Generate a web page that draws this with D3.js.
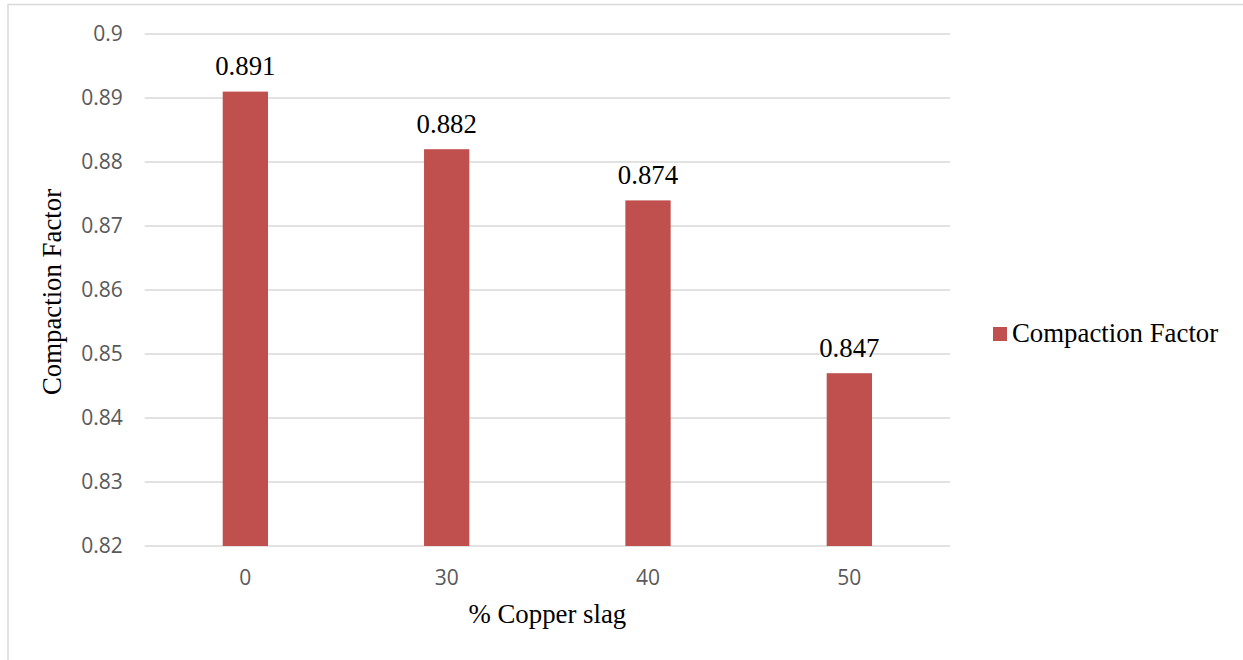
<!DOCTYPE html>
<html>
<head>
<meta charset="utf-8">
<script src="https://cdn.jsdelivr.net/npm/d3@7"></script>
<style>
  html, body { margin: 0; padding: 0; background: #fff; }
  svg { display: block; }
</style>
</head>
<body>
<svg id="chart" width="1243" height="660"></svg>
<script>
const categories = ["0", "30", "40", "50"];
const values = [0.891, 0.882, 0.874, 0.847];
const valueLabels = ["0.891", "0.882", "0.874", "0.847"];
const yTicks = [0.82, 0.83, 0.84, 0.85, 0.86, 0.87, 0.88, 0.89, 0.9];
const seriesName = "Compaction Factor";
const xTitle = "% Copper slag";
const yTitle = "Compaction Factor";

const svg = d3.select("#chart");
const W = 1243, H = 660;
const plot = { left: 144.7, right: 950, top: 34, bottom: 546 };
const barColor = "#c0504d";
const serif = "'Liberation Serif', 'Times New Roman', serif";
const sans = "'Open Sans', 'Liberation Sans', sans-serif";
const serifSize = 26.8;

// Outer chart border
svg.append("rect")
  .attr("x", 8).attr("y", 4.5)
  .attr("width", W + 10).attr("height", H + 10)
  .attr("fill", "none").attr("stroke", "#d9d9d9").attr("stroke-width", 1.5);

const x = d3.scaleBand().domain(categories).range([plot.left, plot.right]).padding(0);
const y = d3.scaleLinear().domain([0.82, 0.9]).range([plot.bottom, plot.top]);

// Gridlines
svg.append("g").selectAll("line").data(yTicks).join("line")
  .attr("x1", plot.left).attr("x2", plot.right)
  .attr("y1", d => y(d)).attr("y2", d => y(d))
  .attr("stroke", "#d9d9d9").attr("stroke-width", 1.3);

// Y axis tick labels
const yAxis = d3.axisLeft(y).tickValues(yTicks).tickSize(0).tickPadding(22)
  .tickFormat(d => d3.format("")(+d.toFixed(2)));
const gy = svg.append("g").attr("transform", `translate(${plot.left},0)`).call(yAxis);
gy.select(".domain").remove();
gy.selectAll("text").attr("font-family", sans).attr("font-size", 21).attr("fill", "#595959");

// X axis tick labels
const xAxis = d3.axisBottom(x).tickSize(0).tickPadding(24);
const gx = svg.append("g").attr("transform", `translate(0,${plot.bottom})`).call(xAxis);
gx.select(".domain").remove();
gx.selectAll("text").attr("font-family", sans).attr("font-size", 21).attr("fill", "#595959");

// Bars
const barW = x.bandwidth() * 0.225;
svg.append("g").selectAll("rect").data(values).join("rect")
  .attr("x", (d, i) => x(categories[i]) + x.bandwidth() / 2 - barW / 2)
  .attr("y", d => y(d))
  .attr("width", barW)
  .attr("height", d => y(0.82) - y(d))
  .attr("fill", barColor);

// Value labels
svg.append("g").selectAll("text").data(values).join("text")
  .attr("x", (d, i) => x(categories[i]) + x.bandwidth() / 2)
  .attr("y", d => y(d) - 16.5)
  .attr("text-anchor", "middle")
  .attr("font-family", serif).attr("font-size", serifSize).attr("fill", "#000")
  .text((d, i) => valueLabels[i]);

// Axis titles
svg.append("text")
  .attr("x", (plot.left + plot.right) / 2).attr("y", 623)
  .attr("text-anchor", "middle")
  .attr("font-family", serif).attr("font-size", serifSize).attr("fill", "#000")
  .text(xTitle);

svg.append("text")
  .attr("transform", "translate(61,292) rotate(-90)")
  .attr("text-anchor", "middle")
  .attr("font-family", serif).attr("font-size", serifSize).attr("fill", "#000")
  .text(yTitle);

// Legend
const lg = svg.append("g");
lg.append("rect").attr("x", 993).attr("y", 327).attr("width", 14).attr("height", 14).attr("fill", barColor);
lg.append("text").attr("x", 1012).attr("y", 342)
  .attr("font-family", serif).attr("font-size", serifSize).attr("fill", "#000")
  .text(seriesName);
</script>
</body>
</html>
